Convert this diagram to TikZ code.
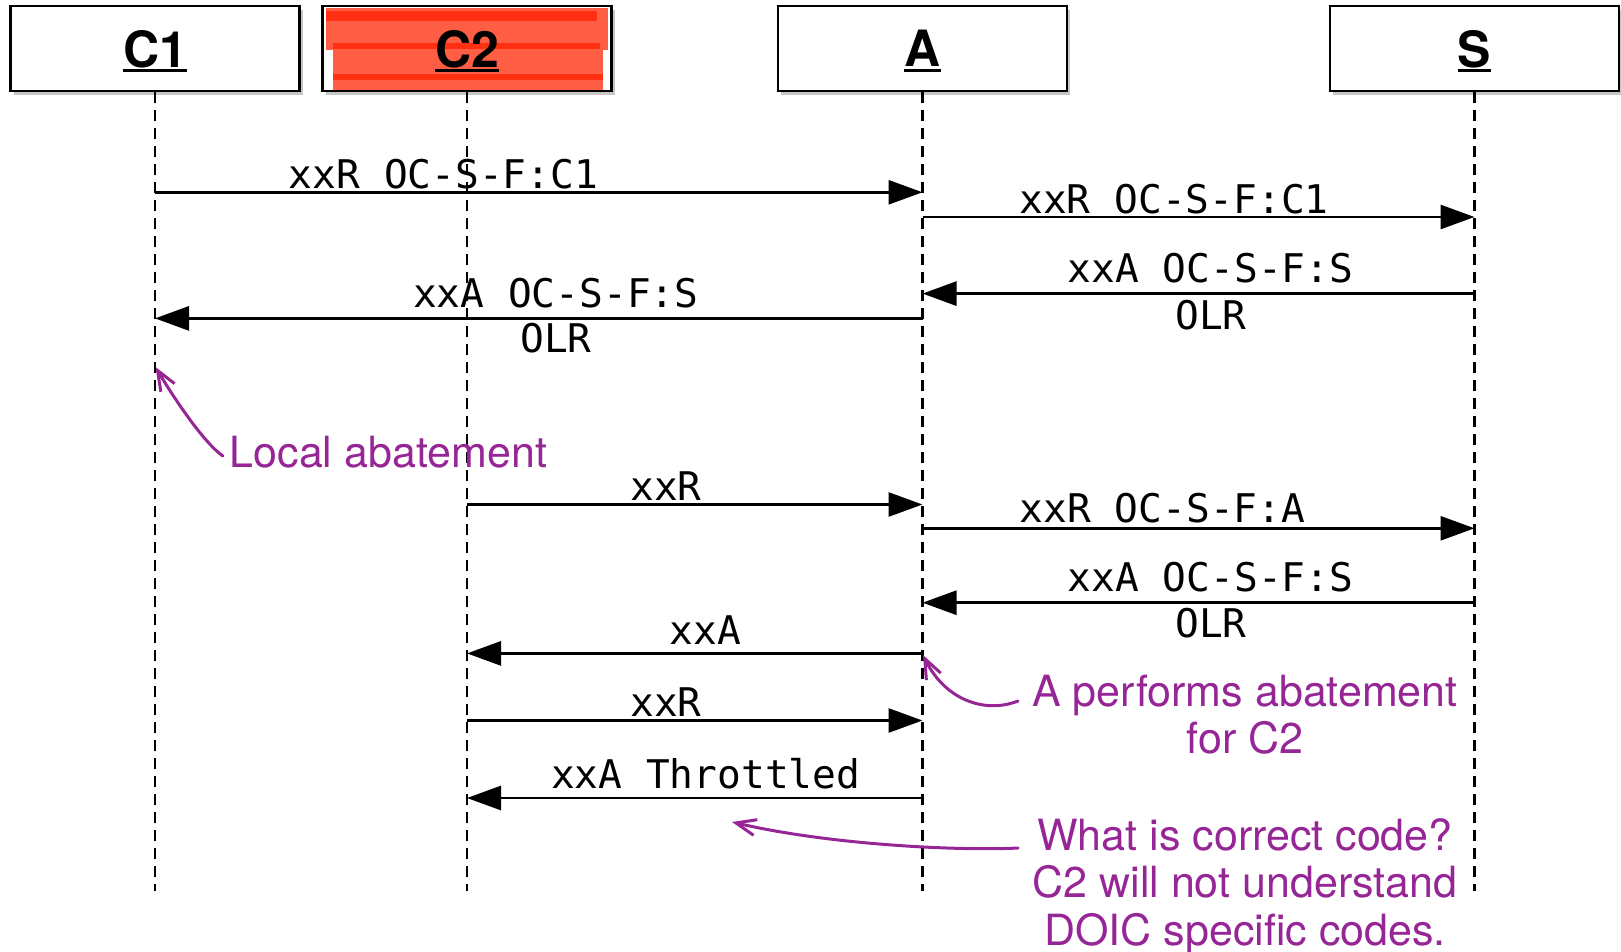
\documentclass[tikz,border=0pt]{standalone}
\usepackage{fontspec}
\setmainfont{TeX Gyre Heros}
\newfontfamily\monofont{DejaVu Sans Mono}
\usetikzlibrary{arrows.meta,shadows}
\definecolor{notepurple}{RGB}{150,38,150}
\definecolor{scribble}{RGB}{255,94,69}
\definecolor{scribbledark}{RGB}{255,48,17}
\newcommand{\boxname}[1]{\setbox0=\hbox{#1}\rlap{\copy0}\rule[-5pt]{\wd0}{3pt}}

\begin{document}
\begin{tikzpicture}[x=1pt,y=-1pt,
	box/.style={draw, line width=2.5pt, fill=white, minimum width=289pt, minimum height=85pt, inner sep=0pt, text depth=0pt,
		drop shadow={shadow xshift=3pt, shadow yshift=-4pt, opacity=0.45},
		font=\fontsize{50}{50}\selectfont\bfseries},
	life/.style={dash pattern=on 11pt off 7pt, line width=2.4pt},
	msg/.style={line width=2.8pt, -{Triangle[length=34pt,width=24pt]}},
	lbl/.style={anchor=base, inner sep=0pt, font=\fontsize{39.5}{40}\monofont},
	note/.style={text=notepurple, align=center, inner sep=0pt, font=\fontsize{43}{47.5}\selectfont},
	pointer/.style={notepurple, line width=3pt, line cap=round, -{Straight Barb[length=20pt,width=16pt]}}]
	\useasboundingbox (0,0) rectangle (1621,952);

	\node[box] (c1) at (155,48.5) {\boxname{C1}};
	\node[box, path picture={
		\fill[scribble] ([shift={(-141,-40.5)}]path picture bounding box.center) rectangle ([shift={(141,1.5)}]path picture bounding box.center);
		\fill[scribble] ([shift={(-134,-5.5)}]path picture bounding box.center) rectangle ([shift={(136,41.5)}]path picture bounding box.center);
		\fill[scribbledark] ([shift={(-141,-37.5)}]path picture bounding box.center) rectangle ([shift={(130,-27.5)}]path picture bounding box.center);
		\fill[scribbledark] ([shift={(-134,-5.5)}]path picture bounding box.center) rectangle ([shift={(133,0.5)}]path picture bounding box.center);
		\fill[scribbledark] ([shift={(-134,25.5)}]path picture bounding box.center) rectangle ([shift={(136,31.5)}]path picture bounding box.center);
	}] (c2) at (467,48.5) {\boxname{C2}};
	\node[box] (a) at (922.5,48.5) {\boxname{A}};
	\node[box] (s) at (1474.5,48.5) {\boxname{S}};

	\coordinate (c1end) at (155,891);
	\coordinate (c2end) at (467,891);
	\coordinate (aend) at (922.5,891);
	\coordinate (send) at (1474.5,891);
	\draw[life] (c1) -- (c1end);
	\draw[life] (c2) -- (c2end);
	\draw[life] (a) -- (aend);
	\draw[life] (s) -- (send);

	\coordinate (c1m1) at (155,192.3);
	\coordinate (am1) at (922.5,192.3);
	\coordinate (am2) at (922.5,217);
	\coordinate (sm2) at (1474.5,217);
	\coordinate (sm3) at (1474.5,293.6);
	\coordinate (am3) at (922.5,293.6);
	\coordinate (am4) at (922.5,318.4);
	\coordinate (c1m4) at (155,318.4);
	\coordinate (c2m5) at (467,504.5);
	\coordinate (am5) at (922.5,504.5);
	\coordinate (am6) at (922.5,528.3);
	\coordinate (sm6) at (1474.5,528.3);
	\coordinate (sm7) at (1474.5,602.7);
	\coordinate (am7) at (922.5,602.7);
	\coordinate (am8) at (922.5,653.4);
	\coordinate (c2m8) at (467,653.4);
	\coordinate (c2m9) at (467,720.5);
	\coordinate (am9) at (922.5,720.5);
	\coordinate (am10) at (922.5,798);
	\coordinate (c2m10) at (467,798);

	\draw[msg] (c1m1) -- (am1);
	\draw[msg] (am2) -- (sm2);
	\draw[msg] (sm3) -- (am3);
	\draw[msg] (am4) -- (c1m4);
	\draw[msg] (c2m5) -- (am5);
	\draw[msg] (am6) -- (sm6);
	\draw[msg] (sm7) -- (am7);
	\draw[msg] (am8) -- (c2m8);
	\draw[msg] (c2m9) -- (am9);
	\draw[msg] (am10) -- (c2m10);

	\node[lbl] (l1) at (443.5,189) {xxR OC-S-F:C1};
	\node[lbl] (l2) at (1174,213) {xxR OC-S-F:C1};
	\node[lbl] (l3) at (1210.5,282) {xxA OC-S-F:S};
	\node[lbl] (l3b) at (1211,329) {OLR};
	\node[lbl] (l4) at (555.7,307) {xxA OC-S-F:S};
	\node[lbl] (l4b) at (556,352.5) {OLR};
	\node[lbl] (l5) at (666,500) {xxR};
	\node[lbl] (l6) at (1162.5,522) {xxR OC-S-F:A};
	\node[lbl] (l7) at (1210.5,591.3) {xxA OC-S-F:S};
	\node[lbl] (l7b) at (1211,637) {OLR};
	\node[lbl] (l8) at (705.6,644) {xxA};
	\node[lbl] (l9) at (666,716.5) {xxR};
	\node[lbl] (l10) at (705.6,788) {xxA Throttled};

	\node[note, anchor=base west] (local) at (229.5,467) {Local abatement};
	\node[note, anchor=base] (perf) at (1245,753.6) {A performs abatement\\for C2};
	\node[note, anchor=base] (code) at (1245,945) {What is correct code?\\C2 will not understand\\DOIC specific codes.};

	\coordinate (localtip) at (155.5,367);
	\coordinate (perftip) at (923,655);
	\coordinate (codetip) at (732,822);
	\coordinate (localfrom) at (223,456);
	\coordinate (perffrom) at (1018,701);
	\coordinate (codefrom) at (1018,848);
	\draw[pointer] (localfrom) .. controls (205,444) and (175,400) .. (localtip);
	\draw[pointer] (perffrom) .. controls (985,714) and (945,700) .. (perftip);
	\draw[pointer] (codefrom) .. controls (960,851) and (830,845) .. (codetip);
\end{tikzpicture}
\end{document}
